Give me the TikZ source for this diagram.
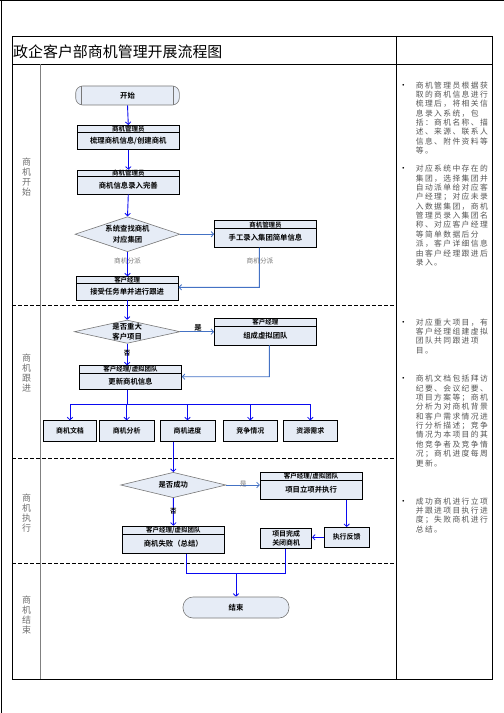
\documentclass[tikz,border=0pt]{standalone}
\usepackage{fontspec}
\setmainfont{Noto Sans CJK SC}[BoldFont={Noto Sans CJK SC Bold}]
\newfontfamily\notefont{Noto Sans CJK SC}[LetterSpace=18]
\newfontfamily\dejavu{DejaVu Sans}
\usetikzlibrary{arrows.meta,shapes.geometric}
\definecolor{boxfill}{RGB}{230,236,246}
\definecolor{flowblue}{RGB}{10,10,240}
\definecolor{steel}{RGB}{68,114,196}
\definecolor{notegray}{RGB}{85,85,85}
\definecolor{lanegray}{RGB}{110,110,110}
\definecolor{edgegray}{RGB}{120,120,120}
\tikzset{
  hdr/.style={draw=black, fill=boxfill, line width=0.6bp, minimum width=102bp, inner sep=0pt, font=\bfseries\fontsize{6.5}{6.5}\selectfont},
  body/.style={draw=black, fill=boxfill, line width=0.6bp, minimum width=102bp, inner sep=0pt, align=center, font=\bfseries\fontsize{7.4}{9.3}\selectfont},
  smallbox/.style={draw=black, fill=boxfill, line width=0.6bp, inner sep=0pt, align=center, font=\bfseries\fontsize{7}{9.3}\selectfont},
  termbox/.style={draw=edgegray, fill=boxfill, line width=0.6bp, inner sep=0pt, font=\bfseries\fontsize{7.4}{9}\selectfont},
  dia/.style={diamond, draw=edgegray, fill=boxfill, line width=0.6bp, inner sep=0pt},
  diatext/.style={inner sep=0pt, align=center, font=\bfseries\fontsize{7.4}{10.5}\selectfont},
  flow/.style={draw=flowblue, line width=0.9bp},
  sflow/.style={draw=steel, line width=0.9bp},
  arr/.style={-{Straight Barb[length=2.6bp,width=5.5bp,line width=0.8bp]}},
  lane/.style={text=lanegray, align=center, inner sep=0pt, font=\fontsize{9}{10.2}\selectfont},
  note/.style={text=notegray, align=left, inner sep=0pt, anchor=north west, font=\notefont\fontsize{7.8}{9.4}\selectfont},
  bul/.style={inner sep=0pt, font=\dejavu\fontsize{6}{6}\selectfont},
  glabel/.style={text=edgegray, inner sep=0pt, font=\fontsize{6.7}{7}\selectfont},
  blabel/.style={text=black, inner sep=0pt, font=\bfseries\fontsize{6.5}{7}\selectfont},
  sep/.style={draw=black, line width=0.8bp, dash pattern=on 4bp off 2bp}
}
\begin{document}
\begin{tikzpicture}[x=1bp,y=-1bp]
\useasboundingbox (0,0) rectangle (504,713);
% page border
\draw[line width=1bp] (0,0.5) -- (504,0.5);
\draw[line width=1bp] (1,0) -- (1,713);
% table
\draw[line width=0.9bp] (12,36) rectangle (492.5,679);
\draw[line width=0.9bp] (12,64) -- (492.5,64);
\draw[line width=0.9bp] (396.3,36) -- (396.3,679);
\draw[draw=gray, line width=1bp] (40,64) -- (40,679);
\draw[sep] (12,305) -- (396.3,305);
\draw[sep] (12,458.3) -- (396.3,458.3);
\draw[sep] (12,563.3) -- (396.3,563.3);
% title
\node[anchor=west, inner sep=0pt, font=\fontsize{15}{15}\selectfont] (title) at (13,51.7) {政企客户部商机管理开展流程图};
% lane labels
\node[lane] (l1) at (26.7,177) {商\\机\\开\\始};
\node[lane] (l2) at (26.7,373) {商\\机\\跟\\进};
\node[lane] (l3) at (26.7,513) {商\\机\\执\\行};
\node[lane] (l4) at (26.7,615) {商\\机\\结\\束};
% start
\node[termbox, rounded corners=7bp, minimum width=103.6bp, minimum height=19bp] (start) at (127.5,95.5) {开始};
\draw[draw=edgegray, line width=0.6bp] ([xshift=6bp]start.north west) -- ([xshift=6bp]start.south west);
\draw[draw=edgegray, line width=0.6bp] ([xshift=-6bp]start.north east) -- ([xshift=-6bp]start.south east);
% B1
\node[hdr, minimum height=6.6bp] (b1h) at (128.3,128.6) {商机管理员};
\node[body, minimum height=17.4bp] (b1b) at (128.3,140.6) {梳理商机信息/创建商机};
% B2
\node[hdr, minimum height=6.6bp] (b2h) at (128.3,173.3) {商机管理员};
\node[body, minimum height=17.4bp] (b2b) at (128.3,185.3) {商机信息录入完善};
% D1
\node[dia, minimum width=105bp, minimum height=35bp] (d1) at (127.5,234.2) {};
\node[diatext] (d1t) at (d1) {系统查找商机\\对应集团};
% B3
\node[hdr, minimum height=8bp] (b3h) at (265.5,224.7) {商机管理员};
\node[body, minimum height=18.6bp] (b3b) at (265.5,238) {手工录入集团简单信息};
% B4
\node[hdr, minimum height=6.6bp] (b4h) at (127.2,280) {客户经理};
\node[body, minimum height=16.7bp] (b4b) at (127.2,291.65) {接受任务单并进行跟进};
% D2
\node[dia, minimum width=105.7bp, minimum height=23.3bp] (d2) at (127.2,331.7) {};
\node[diatext, font=\bfseries\fontsize{7.4}{10}\selectfont] (d2t) at (d2) {是否重大\\客户项目};
% B5
\node[hdr, minimum height=7.7bp] (b5h) at (265.4,322.15) {客户经理};
\node[body, minimum height=19bp] (b5b) at (265.4,335.5) {组成虚拟团队};
% B6
\node[hdr, minimum height=7.6bp] (b6h) at (130.5,369.5) {客户经理/虚拟团队};
\node[body, minimum height=16bp] (b6b) at (130.5,381.3) {更新商机信息};
% five boxes
\node[smallbox, minimum width=53.4bp, minimum height=21bp] (m1) at (70,431.2) {商机文档};
\node[smallbox, minimum width=54.7bp, minimum height=21bp] (m2) at (126.7,431.2) {商机分析};
\node[smallbox, minimum width=55bp, minimum height=21bp] (m3) at (187.5,431.2) {商机进度};
\node[smallbox, minimum width=54bp, minimum height=21bp] (m4) at (250.3,431.2) {竞争情况};
\node[smallbox, minimum width=54bp, minimum height=21bp] (m5) at (310.3,431.2) {资源需求};
% D3
\node[dia, minimum width=105.3bp, minimum height=25.4bp] (d3) at (173.3,485) {};
\node[diatext] (d3t) at (d3) {是否成功};
% B7
\node[hdr, minimum height=7.7bp] (b7h) at (311.15,476.15) {客户经理/虚拟团队};
\node[body, minimum height=19.3bp] (b7b) at (311.15,489.65) {项目立项并执行};
% B8
\node[hdr, minimum height=8.3bp] (b8h) at (173.35,530.15) {客户经理/虚拟团队};
\node[body, minimum height=19bp] (b8b) at (173.35,543.8) {商机失败（总结）};
% feedback and done
\node[smallbox, minimum width=45.3bp, minimum height=20bp] (fb) at (346.7,537.3) {执行反馈};
\node[smallbox, minimum width=51bp, minimum height=20bp] (done) at (286.2,538.3) {项目完成\\关闭商机};
% end
\node[termbox, rounded corners=10bp, minimum width=106bp, minimum height=21bp] (end) at (236,607.5) {结束};
% connectors
\draw[flow,arr] (start.south) -- (b1h.north);
\draw[flow,arr] (b1b.south) -- (b2h.north);
\draw[flow,arr] (b2b.south) -- (d1.north);
\draw[sflow,arr] (d1.east) -- (d1.east -| b3b.west);
\draw[flow,arr] (d1.south) -- (d1.south |- b4h.north);
\node[glabel] (lab1) at (127.5,261) {商机分派};
\coordinate (c3) at (259.3,287.3);
\draw[sflow,arr] ([xshift=-6.2bp]b3b.south) -- (c3) -- (c3 -| b4b.east);
\node[glabel] (lab2) at (260,261) {商机分派};
\draw[flow,arr] (b4b.south) -- (d2.north);
\draw[sflow,arr] (d2.east) -- (d2.east -| b5b.west);
\node[blabel, font=\bfseries\fontsize{7.4}{8}\selectfont] (yes1) at (198,328) {是};
\draw[flow,arr] (d2.south) -- (d2.south |- b6h.north);
\node[blabel] (no1) at (127.2,353) {否};
\coordinate (c5) at (269.3,376.7);
\draw[sflow,arr] ([xshift=3.9bp]b5b.south) -- (c5) -- (c5 -| b6b.east);
\coordinate (bus) at (127.2,404.3);
\draw[flow] (d2.south |- b6b.south) -- (bus);
\draw[flow] (m1.north |- bus) -- (m5.north |- bus);
\draw[flow,arr] (m1.north |- bus) -- (m1.north);
\draw[flow,arr] (m2.north |- bus) -- (m2.north);
\draw[flow,arr] (m3.north |- bus) -- (m3.north);
\draw[flow,arr] (m4.north |- bus) -- (m4.north);
\draw[flow,arr] (m5.north |- bus) -- (m5.north);
\draw[flow,arr] (d3.north |- m3.south) -- (d3.north);
\draw[sflow,arr] (d3.east) -- (d3.east -| b7b.west);
\node[glabel] (yes2) at (243.3,484) {是};
\draw[flow,arr] (d3.south) -- (b8h.north);
\node[blabel] (no2) at (173.3,511) {否};
\draw[flow,arr] (fb.north |- b7b.south) -- (fb.north);
\draw[flow,arr] (fb.west) -- (fb.west -| done.east);
\coordinate (j) at (236,573.3);
\draw[flow] ([xshift=12.6bp]b8b.south) |- (j) -| ([xshift=-1.2bp]done.south);
\draw[flow,arr] (j) -- (end.north);
% notes
\node[bul] (bu1) at (403.3,85.7) {•};
\node[note] (n1) at (415.7,81.4) {商机管理员根据获\\取的商机信息进行\\梳理后，将相关信\\息录入系统，包\\括：商机名称、描\\述、来源、联系人\\信息、附件资料等\\等。};
\node[bul] (bu2) at (403.3,169.3) {•};
\node[note] (n2) at (415.7,165) {对应系统中存在的\\集团，选择集团并\\自动派单给对应客\\户经理；对应未录\\入数据集团，商机\\管理员录入集团名\\称、对应客户经理\\等简单数据后分\\派，客户详细信息\\由客户经理跟进后\\录入。};
\node[bul] (bu3) at (403.3,322.7) {•};
\node[note] (n3) at (415.7,318.4) {对应重大项目，有\\客户经理组建虚拟\\团队共同跟进项\\目。};
\node[bul] (bu4) at (403.3,379.3) {•};
\node[note] (n4) at (415.7,375) {商机文档包括拜访\\纪要、会议纪要、\\项目方案等；商机\\分析为对商机背景\\和客户需求情况进\\行分析描述；竞争\\情况为本项目的其\\他竞争者及竞争情\\况；商机进度每周\\更新。};
\node[bul] (bu5) at (403.3,501.7) {•};
\node[note] (n5) at (415.7,497.4) {成功商机进行立项\\并跟进项目执行进\\度；失败商机进行\\总结。};
\end{tikzpicture}
\end{document}
